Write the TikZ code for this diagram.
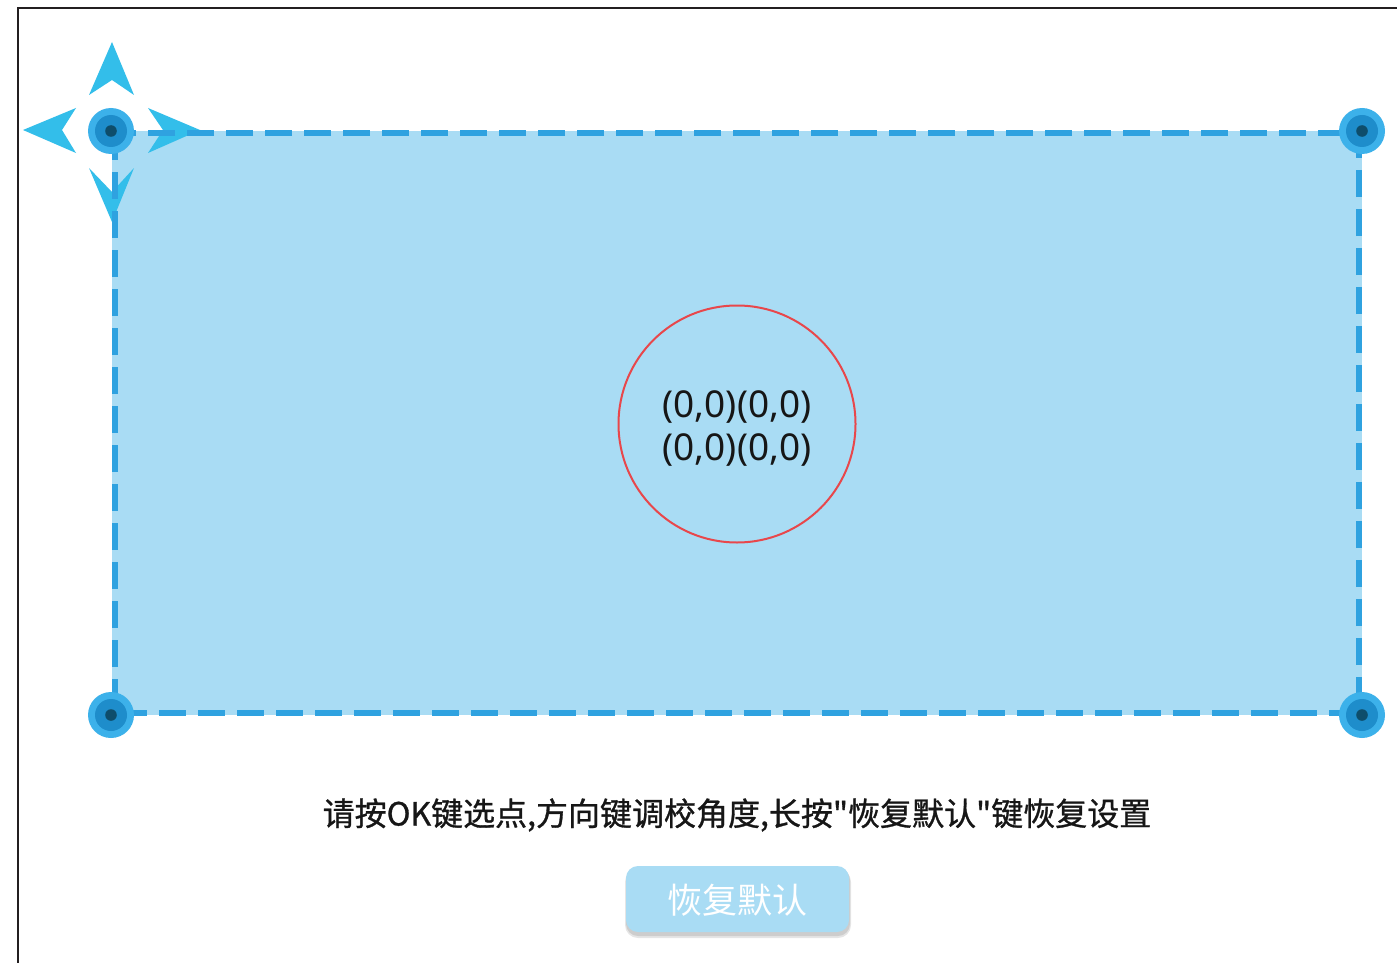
\documentclass[tikz,border=0pt]{standalone}
\usepackage{fontspec}
\setmainfont{Noto Sans}
\newfontfamily\cjk{Noto Sans CJK SC}
\newfontfamily\cjkheavy{Noto Sans CJK SC}[FakeBold=0.9]
\definecolor{areafill}{HTML}{A9DCF4}
\definecolor{dashblue}{HTML}{2FA2E0}
\definecolor{arrowblue}{HTML}{33BEEA}
\definecolor{hout}{HTML}{3CB1EA}
\definecolor{hmid}{HTML}{1E8DCB}
\definecolor{hin}{HTML}{0E4D6B}
\definecolor{framec}{HTML}{231F20}
\definecolor{circred}{HTML}{E8474B}
\definecolor{textc}{HTML}{161616}
\tikzset{
  handle/.style={circle, fill=hout, minimum size=46pt, inner sep=0pt},
  arrowhead/.style={fill=arrowblue, draw=none},
  areabox/.style={fill=areafill, draw=none},
  dashedge/.style={draw=dashblue, line width=5.5pt, dash pattern=on 27pt off 12pt},
  coordtext/.style={font=\fontsize{37}{43}\selectfont, text=textc, align=center},
  hinttext/.style={font=\cjkheavy\fontsize{32}{38}\selectfont, text=textc},
  btn/.style={fill=areafill, rounded corners=12pt, draw=none},
  btntext/.style={font=\cjk\fontsize{35}{40}\selectfont, text=white}
}
\begin{document}
\begin{tikzpicture}[x=1pt,y=-1pt]
\useasboundingbox (0,0) rectangle (1397,963);
\fill[white] (0,0) rectangle (1397,963);
% frame
\draw[framec, line width=2.8pt] (18,970) -- (18,8) -- (1400,8);
% area
\fill[areabox] (112,131) rectangle (1362,715);
% direction arrows
\fill[arrowhead] (112,42) -- (134,95) -- (112,80) -- (89,95) -- cycle;
\fill[arrowhead] (23,130) -- (76,108) -- (62,130) -- (76,153) -- cycle;
\fill[arrowhead] (200,130) -- (148,108) -- (163,130) -- (148,153) -- cycle;
\fill[arrowhead] (112,222) -- (134,168) -- (112,192) -- (89,168) -- cycle;
% dashed border
\coordinate (tl) at (115,133);
\coordinate (br) at (1359,713);
\draw[dashedge] (tl) rectangle (br);
% handles
\foreach \n/\p in {h1/{(111,131)}, h2/{(1362,131)}, h3/{(111,715)}, h4/{(1362,715)}}{
  \node[handle] (\n) at \p {};
  \fill[hmid] (\n.center) circle (16pt);
  \fill[hin] (\n.center) circle (5.8pt);
}
% centre circle
\node[circle, draw=circred, line width=2pt, minimum size=237pt, inner sep=0pt] (ring) at (737,424) {};
\node[coordtext] (coords) at (737,429) {(0,0)(0,0)\\(0,0)(0,0)};
% hint
\node[hinttext] (hint) at (737,815) {请按OK键选点,方向键调校角度,长按"恢复默认"键恢复设置};
% button
\fill[black, opacity=0.10, rounded corners=13pt] (625,869) rectangle (851,938);
\fill[black, opacity=0.10, rounded corners=12pt] (626,868) rectangle (850,936);
\fill[btn] (626,866) rectangle (849,932);
\node[btntext] (button) at (737,900) {恢复默认};
\end{tikzpicture}
\end{document}
